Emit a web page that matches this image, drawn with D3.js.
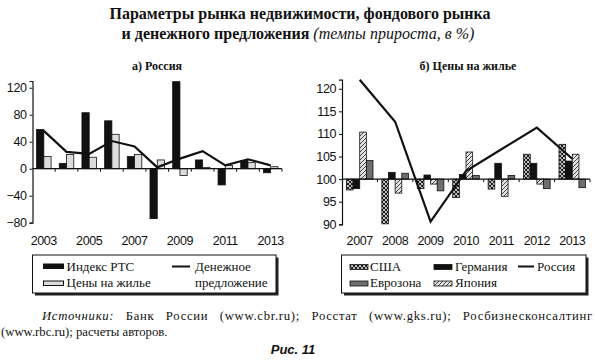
<!DOCTYPE html>
<html><head><meta charset="utf-8">
<script src="https://cdn.jsdelivr.net/npm/d3@7"></script>
<style>
html,body{margin:0;padding:0;background:#fff;}
svg{display:block;}
.num{font-family:"Liberation Sans",Arial,sans-serif;font-size:12.5px;letter-spacing:-0.4px;fill:#111;}
.serif{font-family:"Liberation Serif","Times New Roman",serif;fill:#111;}
</style></head>
<body>
<script>
// ---- data ----
const yearsA = [2003,2004,2005,2006,2007,2008,2009,2010,2011,2012,2013];
const rts     = [58, 8, 83, 71, 18, -74, 129, 13, -24, 12, -6];
const housing = [18, 21, 17, 51, 21, 13, -10, 2, 5, 9, 3];
const money   = [56, 25, 22, 41, 33, 2, 15, 26, 5, 14, 5];
const ticksA  = [-80,-40,0,40,80,120];
const labelYearsA = [2003,2005,2007,2009,2011,2013];

const yearsB = [2007,2008,2009,2010,2011,2012,2013];
const usa     = [97.6, 90.1, 97.9, 95.9, 97.8, 105.5, 107.7];
const germany = [97.9, 101.5, 100.9, 101.0, 103.5, 103.5, 104.0];
const japan   = [110.4, 96.9, 98.9, 106.0, 96.2, 98.9, 105.5];
const euro    = [104.1, 101.3, 97.4, 100.8, 100.8, 97.9, 98.1];
const russia  = [122, 112.7, 90.6, 101.8, 106.6, 111.4, 104.5];
const ticksB  = [90,95,100,105,110,115,120];

const W = 595, H = 364;
const svg = d3.select("body").append("svg").attr("width", W).attr("height", H);
const defs = svg.append("defs");

// patterns
const pC = defs.append("pattern").attr("id","cross").attr("patternUnits","userSpaceOnUse").attr("width",4).attr("height",4);
pC.append("rect").attr("width",4).attr("height",4).attr("fill","#fff");
pC.append("path").attr("d","M0,0L4,4M4,0L0,4M-1,3L1,5M3,-1L5,1M-1,1L1,-1M3,5L5,3").attr("stroke","#111").attr("stroke-width",1.1);
const pH = defs.append("pattern").attr("id","hatch").attr("patternUnits","userSpaceOnUse").attr("width",4).attr("height",4);
pH.append("rect").attr("width",4).attr("height",4).attr("fill","#e4e4e4");
pH.append("path").attr("d","M-1,1L1,-1M0,4L4,0M3,5L5,3").attr("stroke","#333").attr("stroke-width",0.9);

// ---- titles ----
svg.append("text").attr("class","serif").attr("x",300).attr("y",19)
  .attr("text-anchor","middle").style("font-size","16px").style("font-weight","bold")
  .text("Параметры рынка недвижимости, фондового рынка");
const t2 = svg.append("text").attr("class","serif").attr("x",298).attr("y",38.5)
  .attr("text-anchor","middle").style("font-size","16px");
t2.append("tspan").style("font-weight","bold").text("и денежного предложения ");
t2.append("tspan").style("font-style","italic").text("(темпы прироста, в %)");

// ================= Chart A =================
const xA = d3.scaleBand().domain(yearsA).range([32.5, 282]);
const yA = d3.scaleLinear().domain([-80,130]).range([222.7, 81]);
const gA = svg.append("g");
svg.append("text").attr("class","serif").attr("x",157).attr("y",70).attr("text-anchor","middle")
  .style("font-size","12px").style("font-weight","bold").text("а) Россия");

const gwA = xA.bandwidth()*0.64;
const x1A = d3.scaleBand().domain(["rts","house"]).range([-gwA/2, gwA/2]);
yearsA.forEach((yr,i)=>{
  const cx = xA(yr) + xA.bandwidth()/2;
  [["rts",rts[i],"#111"],["house",housing[i],"#dcdcdc"]].forEach(([k,v,c])=>{
    gA.append("rect").attr("x",cx + x1A(k)).attr("width",x1A.bandwidth())
      .attr("y",yA(Math.max(0,v))).attr("height",Math.abs(yA(v)-yA(0)))
      .attr("fill",c).attr("stroke","#111").attr("stroke-width",0.8);
  });
});
const axA = gA.append("g").attr("transform",`translate(${xA.range()[0]},0)`)
  .call(d3.axisLeft(yA).tickValues(ticksA).tickSize(3).tickFormat(d3.format("d")));
axA.attr("font-family",null).attr("font-size",null);
axA.select(".domain").attr("stroke","#111").attr("stroke-width",1.2);
axA.selectAll(".tick line").attr("stroke","#111");
axA.selectAll(".tick text").attr("class","num").attr("x",-6).attr("fill",null);
gA.append("line").attr("x1",xA.range()[0]).attr("x2",xA.range()[1]).attr("y1",yA(0)).attr("y2",yA(0)).attr("stroke","#111").attr("stroke-width",1.2);
yearsA.slice(1).concat([null]).forEach(yr=>{
  const xx = yr===null ? xA.range()[1] : xA(yr);
  gA.append("line").attr("x1",xx).attr("x2",xx).attr("y1",yA(0)).attr("y2",yA(0)+3).attr("stroke","#111");
});
labelYearsA.forEach(yr=>{
  gA.append("text").attr("class","num").attr("x",xA(yr)+xA.bandwidth()/2).attr("y",245).attr("text-anchor","middle").text(yr);
});
gA.append("path").datum(money)
  .attr("d", d3.line().x((d,i)=>xA(yearsA[i])+xA.bandwidth()/2).y(d=>yA(d)))
  .attr("fill","none").attr("stroke","#111").attr("stroke-width",2.2);

// legend helpers
function legendBox(x,y,w,h){
  svg.append("rect").attr("x",x+2.5).attr("y",y+2.5).attr("width",w).attr("height",h).attr("fill","#222");
  svg.append("rect").attr("x",x).attr("y",y).attr("width",w).attr("height",h).attr("fill","#fff").attr("stroke","#111").attr("stroke-width",1);
}
function legText(x,y,s){ svg.append("text").attr("class","serif").attr("x",x).attr("y",y).style("font-size","13px").text(s); }

legendBox(32.5,255,243.5,38);
svg.append("rect").attr("x",43.5).attr("y",264).attr("width",20).attr("height",4.5).attr("fill","#111").attr("stroke","#111");
legText(66.5,270.5,"Индекс РТС");
svg.append("rect").attr("x",43.5).attr("y",281).attr("width",20).attr("height",4.5).attr("fill","#dcdcdc").attr("stroke","#111");
legText(66.5,287,"Цены на жилье");
svg.append("line").attr("x1",172).attr("x2",190).attr("y1",266.5).attr("y2",266.5).attr("stroke","#111").attr("stroke-width",2);
legText(195,270.5,"Денежное");
legText(195,287,"предложение");

// ================= Chart B =================
const xB = d3.scaleBand().domain(yearsB).range([342, 590]);
const yB = d3.scaleLinear().domain([90,122]).range([224.3, 79.7]);
const gB = svg.append("g");
svg.append("text").attr("class","serif").attr("x",468).attr("y",70).attr("text-anchor","middle")
  .style("font-size","12px").style("font-weight","bold").text("б) Цены на жилье");

const seriesB = [
  {key:"usa", vals:usa, fill:"url(#cross)"},
  {key:"ger", vals:germany, fill:"#111"},
  {key:"jpn", vals:japan, fill:"url(#hatch)"},
  {key:"eur", vals:euro, fill:"#6e6e6e"}
];
const gwB = xB.bandwidth()*0.75;
const x1B = d3.scaleBand().domain(seriesB.map(s=>s.key)).range([-gwB/2, gwB/2]);
yearsB.forEach((yr,i)=>{
  const cx = xB(yr)+xB.bandwidth()/2;
  seriesB.forEach(s=>{
    const v = s.vals[i];
    gB.append("rect").attr("x",cx + x1B(s.key)).attr("width",x1B.bandwidth())
      .attr("y",yB(Math.max(100,v))).attr("height",Math.abs(yB(v)-yB(100)))
      .attr("fill",s.fill).attr("stroke","#111").attr("stroke-width",0.8);
  });
});
const axB = gB.append("g").attr("transform",`translate(${xB.range()[0]},0)`)
  .call(d3.axisLeft(yB).tickValues(ticksB).tickSize(3).tickFormat(d3.format("d")));
axB.attr("font-family",null).attr("font-size",null);
axB.select(".domain").attr("stroke","#111").attr("stroke-width",1.2);
axB.selectAll(".tick line").attr("stroke","#111");
axB.selectAll(".tick text").attr("class","num").attr("x",-6).attr("fill",null);
gB.append("line").attr("x1",xB.range()[0]).attr("x2",xB.range()[1]).attr("y1",yB(100)).attr("y2",yB(100)).attr("stroke","#111").attr("stroke-width",1.2);
yearsB.slice(1).concat([null]).forEach(yr=>{
  const xx = yr===null ? xB.range()[1] : xB(yr);
  gB.append("line").attr("x1",xx).attr("x2",xx).attr("y1",yB(100)).attr("y2",yB(100)+3).attr("stroke","#111");
});
yearsB.forEach(yr=>{
  gB.append("text").attr("class","num").attr("x",xB(yr)+xB.bandwidth()/2).attr("y",245).attr("text-anchor","middle").text(yr);
});
gB.append("path").datum(russia)
  .attr("d", d3.line().x((d,i)=>xB(yearsB[i])+xB.bandwidth()/2).y(d=>yB(d)))
  .attr("fill","none").attr("stroke","#111").attr("stroke-width",2.2);

legendBox(341.5,255,244.5,38);
function sw(x,y,f){ svg.append("rect").attr("x",x).attr("y",y).attr("width",18).attr("height",5).attr("fill",f).attr("stroke","#111").attr("stroke-width",0.8); }
sw(350,264.5,"url(#cross)"); legText(370,270.5,"США");
sw(434,264.5,"#111"); legText(455,270.5,"Германия");
svg.append("line").attr("x1",518).attr("x2",534).attr("y1",266.5).attr("y2",266.5).attr("stroke","#111").attr("stroke-width",2);
legText(537,270.5,"Россия");
sw(350,281,"#6e6e6e"); legText(370,287,"Еврозона");
sw(434,281,"url(#hatch)"); legText(455,287,"Япония");

// ---- footer ----
const f1 = svg.append("text").attr("class","serif").attr("x",42).attr("y",320).style("font-size","12.7px");
f1.append("tspan").style("font-style","italic").text("Источники:");
f1.append("tspan").text(" Банк России (www.cbr.ru); Росстат (www.gks.ru); Росбизнесконсалтинг");
(function justify(){
  const target = 551;
  const len = f1.node().getComputedTextLength();
  const txt = f1.text();
  const spaces = (txt.match(/ /g)||[]).length;
  const extra = target - len;
  if (extra > 0) {
    f1.style("letter-spacing", (extra*0.55/txt.length) + "px");
    f1.style("word-spacing", (extra*0.45/spaces) + "px");
  }
})();
svg.append("text").attr("class","serif").attr("x",1).attr("y",335.5).style("font-size","12.7px")
  .text("(www.rbc.ru); расчеты авторов.");
svg.append("text").attr("x",293).attr("y",354).attr("text-anchor","middle")
  .style("font-family","'Liberation Sans',Arial,sans-serif").style("font-size","13px")
  .style("font-weight","bold").style("font-style","italic").attr("fill","#111").text("Рис. 11");
</script>
</body></html>
